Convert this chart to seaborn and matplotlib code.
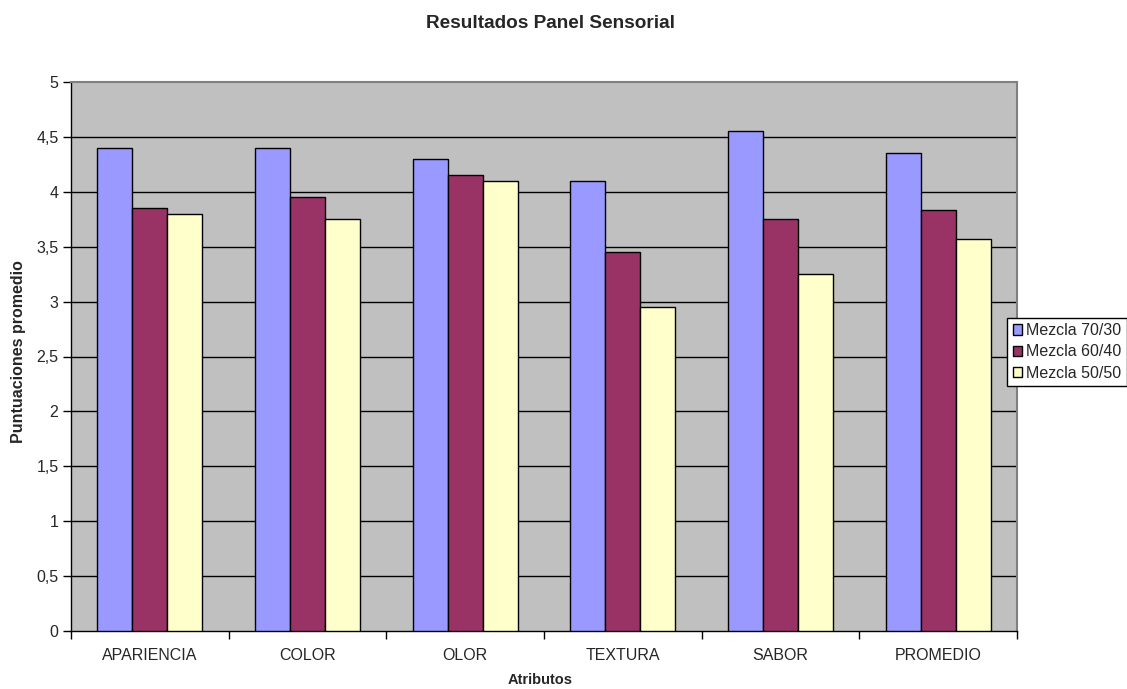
import matplotlib
matplotlib.use("Agg")
import matplotlib.pyplot as plt
import seaborn as sns
import pandas as pd
from matplotlib.ticker import FixedLocator, FixedFormatter

# Sensory panel average scores per attribute and blend
atributos = ["APARIENCIA", "COLOR", "OLOR", "TEXTURA", "SABOR", "PROMEDIO"]
mezclas = ["Mezcla 70/30", "Mezcla 60/40", "Mezcla 50/50"]
mezcla_70_30 = [4.40, 4.40, 4.30, 4.10, 4.55, 4.35]
mezcla_60_40 = [3.85, 3.95, 4.15, 3.45, 3.75, 3.83]
mezcla_50_50 = [3.80, 3.75, 4.10, 2.95, 3.25, 3.57]
colores = ["#9999FF", "#993366", "#FFFFCC"]
y_ticks = [0, 0.5, 1, 1.5, 2, 2.5, 3, 3.5, 4, 4.5, 5]

df = pd.DataFrame({
    "Atributo": atributos * 3,
    "Mezcla": [mezclas[0]] * 6 + [mezclas[1]] * 6 + [mezclas[2]] * 6,
    "Puntuacion": mezcla_70_30 + mezcla_60_40 + mezcla_50_50,
})

sns.set_style("white")
plt.rcParams["font.family"] = ["Liberation Sans", "DejaVu Sans"]

fig = plt.figure(figsize=(11.27, 6.89), dpi=100)
ax = fig.add_axes([71 / 1127, 1 - 631 / 689, (1017 - 71) / 1127, (631 - 82) / 689])
ax.set_facecolor("#C0C0C0")

sns.barplot(data=df, x="Atributo", y="Puntuacion", hue="Mezcla",
            order=atributos, hue_order=mezclas, palette=colores,
            width=3 / 4.5, gap=0, edgecolor="black", linewidth=1.0,
            saturation=1, ax=ax, errorbar=None, zorder=3)

ax.set_ylim(0, 5)
ax.set_xlim(-0.5, len(atributos) - 0.5)

# horizontal gridlines
for v in y_ticks[1:-1]:
    ax.axhline(v, color="black", linewidth=1.0, zorder=1)

ax.yaxis.set_major_locator(FixedLocator(y_ticks))
ax.yaxis.set_major_formatter(FixedFormatter([f"{t:g}".replace(".", ",") for t in y_ticks]))
ax.tick_params(axis="y", direction="out", length=6, width=1, color="black",
               labelsize=11.5, pad=3, left=True)

# category boundaries get ticks, labels sit at the category centres
ax.xaxis.set_major_locator(FixedLocator([i - 0.5 for i in range(len(atributos) + 1)]))
ax.xaxis.set_major_formatter(FixedFormatter([""] * (len(atributos) + 1)))
ax.xaxis.set_minor_locator(FixedLocator(list(range(len(atributos)))))
ax.xaxis.set_minor_formatter(FixedFormatter(atributos))
ax.tick_params(axis="x", which="major", direction="out", length=6, width=1,
               color="black", bottom=True)
ax.tick_params(axis="x", which="minor", length=0, labelsize=11.5, pad=12)

for s in ["left", "bottom"]:
    ax.spines[s].set_color("black")
    ax.spines[s].set_linewidth(1.0)
for s in ["top", "right"]:
    ax.spines[s].set_color("#808080")
    ax.spines[s].set_linewidth(1.5)

ax.set_xlabel("")
ax.set_ylabel("")
fig.text(0.016, 1 - 352 / 689, "Puntuaciones promedio",
         rotation=90, ha="center", va="center", fontsize=11.5, fontweight="bold")
fig.text(540 / 1127, 1 - 680 / 689, "Atributos",
         ha="center", va="center", fontsize=10.5, fontweight="bold")
fig.text(550 / 1127, 1 - 24 / 689, "Resultados Panel Sensorial",
         ha="center", va="center", fontsize=13.7, fontweight="bold")

handles, labels = ax.get_legend_handles_labels()
ax.legend_.remove()
leg = fig.legend(handles, labels, loc="center left",
                 bbox_to_anchor=(1007 / 1127, 1 - 352 / 689),
                 frameon=True, fancybox=False, framealpha=1, edgecolor="black",
                 fontsize=11.5, handlelength=0.6, handleheight=0.6,
                 handletextpad=0.25, borderpad=0.35, labelspacing=0.4,
                 borderaxespad=0)
leg.get_frame().set_linewidth(1.0)

fig.savefig("out.png", dpi=100, facecolor="white")
